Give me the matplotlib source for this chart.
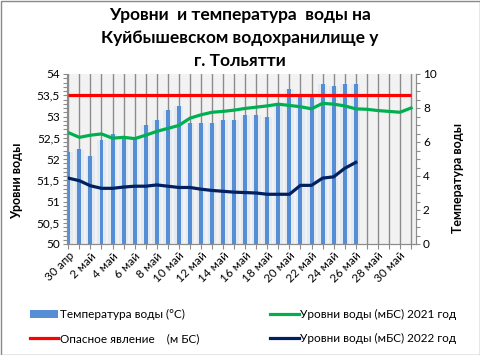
import numpy as np
import matplotlib
matplotlib.use("Agg")
import matplotlib.pyplot as plt
from matplotlib.patches import Rectangle, Patch
from matplotlib.lines import Line2D
from matplotlib.ticker import MultipleLocator, FuncFormatter

plt.rcParams['font.family'] = ['Lato', 'DejaVu Sans']

# ---------------------------------------------------
# Данные (30 апреля - 31 мая)
# ---------------------------------------------------
days = ['30 апр'] + [f'{d} май' for d in range(1, 32)]

temp = [5.4, 5.6, 5.2, 6.1, 6.5, 6.2, 6.2, 7.0, 7.3, 7.9, 8.1, 7.1, 7.1, 7.1,
        7.3, 7.3, 7.6, 7.6, 7.5, 8.3, 9.1, 8.7, 8.7, 9.4, 9.3, 9.4, 9.4]

level_2021 = [52.62, 52.51, 52.56, 52.59, 52.49, 52.51, 52.48, 52.56, 52.65,
              52.72, 52.79, 52.96, 53.04, 53.10, 53.12, 53.15, 53.19, 53.22,
              53.25, 53.29, 53.26, 53.23, 53.18, 53.31, 53.29, 53.25, 53.18,
              53.17, 53.14, 53.12, 53.10, 53.20]

level_2022 = [51.55, 51.49, 51.37, 51.31, 51.31, 51.34, 51.36, 51.36, 51.39,
              51.36, 51.33, 51.33, 51.29, 51.26, 51.24, 51.22, 51.21, 51.20,
              51.17, 51.17, 51.17, 51.38, 51.38, 51.55, 51.58, 51.78, 51.92]

danger = [53.5] * len(days)

# ---------------------------------------------------
# Цвета
# ---------------------------------------------------
c_bar = '#558ED5'
c_2021 = '#00B050'
c_2022 = '#002060'
c_red = '#FF0000'
c_axis = '#8C8C8C'

W, H = 481, 355
fig = plt.figure(figsize=(W / 100, H / 100), dpi=100)

# область построения (в пикселях: 67..416 по x, 74..244 по y)
ax = fig.add_axes([67 / W, 1 - 244 / H, (416 - 67) / W, (244 - 74) / H])
ax.set_facecolor('#F2F2F2')

x = np.arange(len(days))
xt = x[:len(temp)]

# температура (правая ось)
ax.bar(xt, temp, width=0.8, color='#DCE5F1', alpha=0.6, zorder=2)
ax.bar(xt, temp, width=0.36, color=c_bar, zorder=3)
ax.set_ylim(0, 10)
ax.set_xlim(-0.12, 31.45)

ax.set_xticks(x)
ax.set_xticklabels([d if i % 2 == 0 else '' for i, d in enumerate(days)],
                   rotation=45, ha='right', rotation_mode='anchor', fontsize=8)
ax.grid(axis='x', color='#8C8C8C', linewidth=1.0, zorder=1)
ax.set_axisbelow(True)

ax2 = ax.twinx()
ax.yaxis.tick_right()
ax.yaxis.set_label_position('right')
ax2.yaxis.tick_left()
ax2.yaxis.set_label_position('left')

ax.yaxis.set_major_locator(MultipleLocator(2))
ax.yaxis.set_minor_locator(MultipleLocator(0.5))

# уровни воды (левая ось)
ax2.plot(x, danger, color=c_red, linewidth=2.3, solid_capstyle='butt')
ax2.plot(x, level_2021, color=c_2021, linewidth=2.3)
ax2.plot(x[:len(level_2022)], level_2022, color=c_2022, linewidth=2.3)
ax2.set_ylim(50, 54)
ax2.yaxis.set_major_locator(MultipleLocator(0.5))
ax2.yaxis.set_minor_locator(MultipleLocator(0.1))
ax2.yaxis.set_major_formatter(FuncFormatter(lambda v, p: f'{v:g}'.replace('.', ',')))

for a in (ax, ax2):
    a.spines['top'].set_visible(False)
    for s in ('left', 'right', 'bottom'):
        a.spines[s].set_color(c_axis)
    a.tick_params(which='both', color=c_axis, length=3, width=0.8, labelsize=8.5, pad=2)
ax.tick_params(axis='x', length=3.5, pad=1)

ax.set_ylabel('Температура воды', fontsize=9, fontweight='bold')
ax2.set_ylabel('Уровни воды', fontsize=9, fontweight='bold')
ax.yaxis.set_label_coords((458 - 67) / 349, (244 - 178) / 170)
ax2.yaxis.set_label_coords((17 - 67) / 349, (244 - 181) / 170)
ax.yaxis.label.set_va('center')
ax2.yaxis.label.set_va('center')

# заголовок
fig.text(0.499, 1 - 7 / H,
         'Уровни  и температура  воды на\nКуйбышевском водохранилище у\nг. Тольятти',
         ha='center', va='top', fontsize=12.5, fontweight='bold', linespacing=1.55)

# легенда
handles = [Patch(facecolor=c_bar, edgecolor='none'),
           Line2D([], [], color=c_red, linewidth=2.3),
           Line2D([], [], color=c_2021, linewidth=2.3),
           Line2D([], [], color=c_2022, linewidth=2.3)]
labels = ['Температура воды (°C)', 'Опасное явление    (м БС)',
          'Уровни воды (мБС) 2021 год', 'Уровни воды (мБС) 2022 год']
fig.legend(handles, labels, ncol=2, loc='upper left',
           bbox_to_anchor=(30 / W, 1 - 309 / H), frameon=False, fontsize=8.5,
           handlelength=2.4, handleheight=0.6, handletextpad=0.15,
           columnspacing=6.0, labelspacing=1.1, borderpad=0, borderaxespad=0)

# рамка диаграммы
fig.patches.append(Rectangle((0.5 / W, 0.5 / H), 1 - 1.5 / W, 1 - 1.5 / H,
                             transform=fig.transFigure, fill=False,
                             edgecolor='#898989', linewidth=1))

fig.savefig('out.png', dpi=100, facecolor='white')
plt.close(fig)
